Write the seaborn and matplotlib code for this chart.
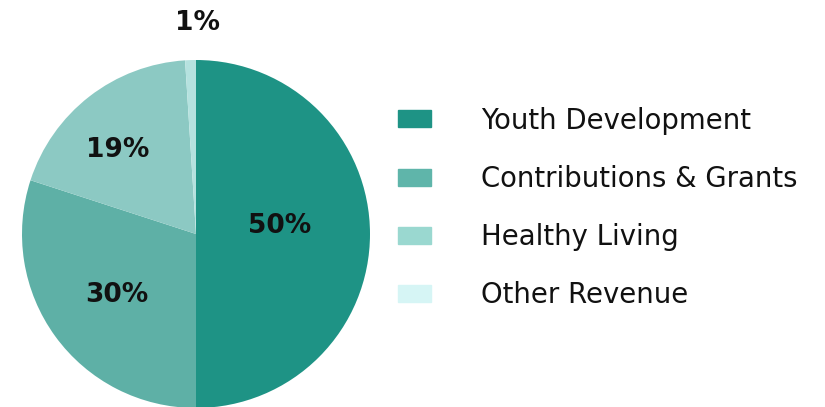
import matplotlib
matplotlib.use("Agg")
import matplotlib.pyplot as plt
import matplotlib.patches as mpatches
import numpy as np
import seaborn as sns

categories = ["Youth Development", "Contributions & Grants", "Healthy Living", "Other Revenue"]
values = [50, 30, 19, 1]
pct_labels = ["50%", "30%", "19%", "1%"]
pie_colors = ["#1e9385", "#5eb0a6", "#8cc9c3", "#b5e2df"]
legend_colors = ["#1e9385", "#5fb5aa", "#9ad8d0", "#d6f5f5"]
label_dist = [0.485, 0.574, 0.659, 1.21]
label_ang_offset = [5.4, 1.7, 5.1, -2.1]

sns.set_theme(style="white")
plt.rcParams['font.family'] = ['DejaVu Sans']

fig = plt.figure(figsize=(8.25, 4.07), dpi=100)
ax = fig.add_axes([22/825, (407-234-174)/407, 348/825, 348/407])
wedges, _ = ax.pie(values, colors=pie_colors, startangle=90, counterclock=False,
                   radius=1.0, wedgeprops=dict(linewidth=0))
ax.set_xlim(-1, 1)
ax.set_ylim(-1, 1)
ax.set_aspect("equal")
ax.axis("off")

for w, lab, d, off in zip(wedges, pct_labels, label_dist, label_ang_offset):
    ang = np.deg2rad((w.theta1 + w.theta2) / 2 + off)
    ax.text(d * np.cos(ang), d * np.sin(ang), lab, ha="center", va="center",
            fontsize=19, fontweight="bold", color="#111111", clip_on=False)

handles = [mpatches.Patch(color=c, label=l) for c, l in zip(legend_colors, categories)]
fig.legend(handles=handles, loc="center left", bbox_to_anchor=(398/825, 1-208/407),
           frameon=False, fontsize=19.8, handlelength=1.2, handleheight=0.58,
           handletextpad=1.82, labelspacing=1.1, borderpad=0, borderaxespad=0,
           labelcolor="#111111")

fig.savefig("out.png", dpi=100)
